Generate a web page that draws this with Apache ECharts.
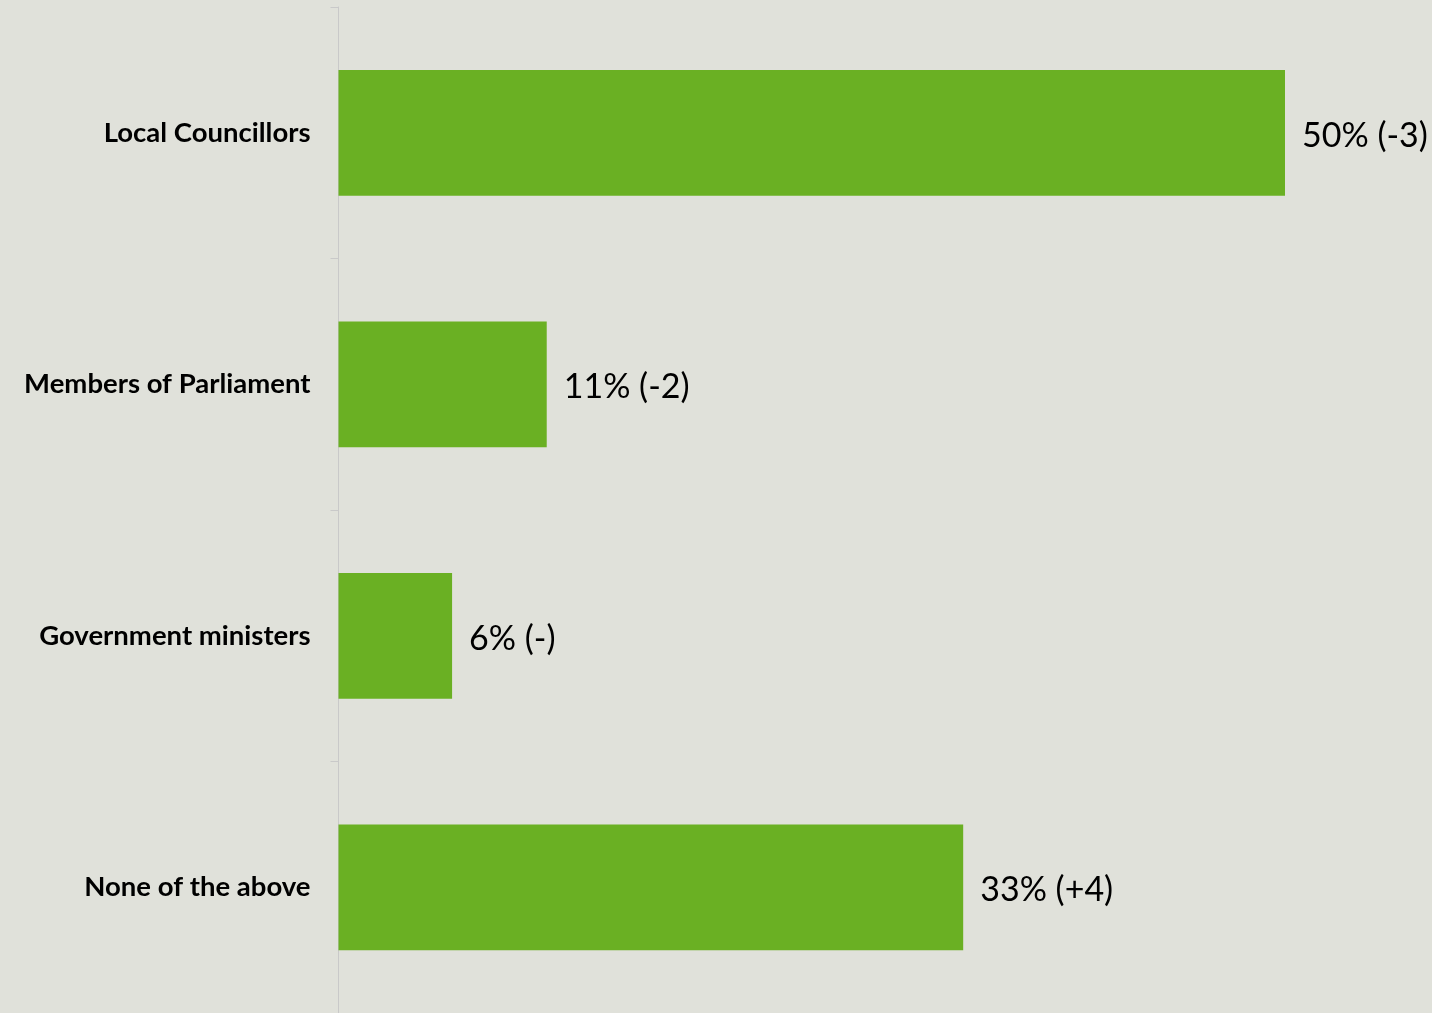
<!DOCTYPE html>
<html><head><meta charset="utf-8">
<style>html,body{margin:0;padding:0;background:#E0E1DA;}#c{width:1432px;height:1013px;}</style>
<script src="https://cdn.jsdelivr.net/npm/echarts@6/dist/echarts.min.js"></script>
</head><body><div id="c"></div>
<script>
const categories = ["Local Councillors", "Members of Parliament", "Government ministers", "None of the above"];
const values = [50, 11, 6, 33];
const changes = ["-3", "-2", "-", "+4"];

const chart = echarts.init(document.getElementById('c'));
chart.setOption({
  backgroundColor: '#E0E1DA',
  animation: false,
  grid: { left: 338.5, top: 7, width: 946.5, height: 1009, containLabel: false },
  xAxis: { type: 'value', min: 0, max: 50, show: false },
  yAxis: {
    type: 'category', data: categories, inverse: true,
    axisLine: { show: true, lineStyle: { color: '#C9C9C9', width: 1 } },
    axisTick: { show: true, length: 8, lineStyle: { color: '#C9C9C9' } },
    axisLabel: { margin: 28, color: '#000', fontFamily: 'Lato', fontWeight: 'bold', fontSize: 27.5 }
  },
  series: [{
    type: 'bar', data: values, barWidth: '50%',
    itemStyle: { color: '#6AB023' },
    label: {
      show: true, position: 'right', distance: 17, color: '#000', offset: [0, 3],
      fontFamily: 'Lato', fontSize: 34,
      formatter: p => p.value + '% (' + changes[p.dataIndex] + ')'
    }
  }]
});
</script></body></html>
